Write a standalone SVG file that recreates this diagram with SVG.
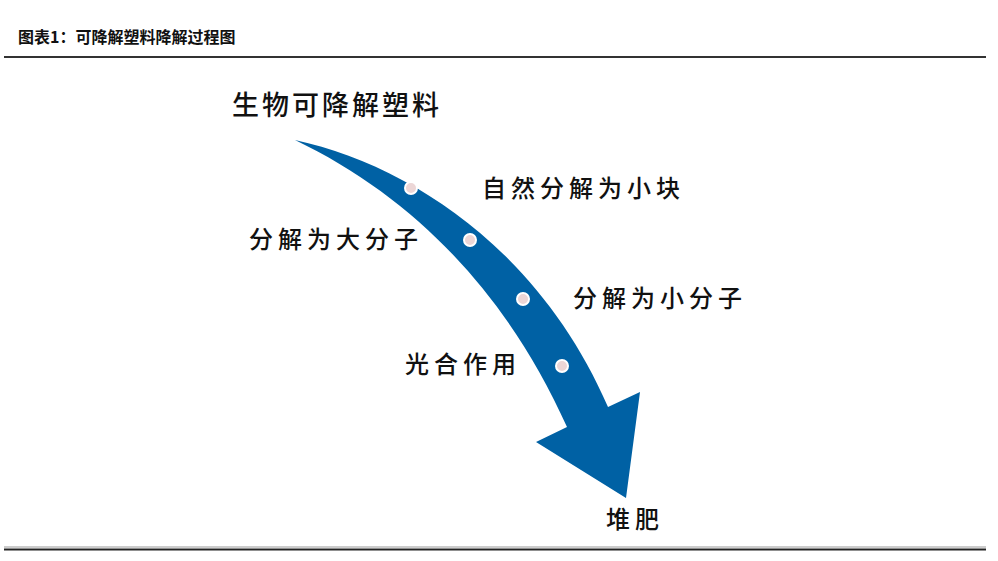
<svg xmlns="http://www.w3.org/2000/svg" width="998" height="561" viewBox="0 0 998 561">
<style>
text{font-family:"Noto Sans CJK SC","Noto Sans",sans-serif;fill:#111}
.l{font-size:24px;letter-spacing:5px;font-weight:500}
.d{fill:#ecd6d6;stroke:#fff;stroke-width:2}
</style>
<rect width="998" height="561" fill="#fff"/>
<text x="18" y="43" font-size="16" font-weight="bold">图表1：可降解塑料降解过程图</text>
<line x1="4" y1="57" x2="986" y2="57" stroke="#333" stroke-width="2"/>
<line x1="4" y1="547" x2="986" y2="547" stroke="#999" stroke-width="1"/>
<line x1="4" y1="549.5" x2="986" y2="549.5" stroke="#222" stroke-width="2"/>
<g id="arrow">
<path d="M295,140 C410,165 540,250 608,407 L640,392 L626,498 L536,442 L567,427 C510,300 420,200 295,140 Z" fill="#0061a4"/>
<circle class="d" cx="411" cy="188" r="6"/>
<circle class="d" cx="470" cy="240" r="6"/>
<circle class="d" cx="523" cy="299" r="6"/>
<circle class="d" cx="562" cy="366" r="6"/>
</g>
<g id="n1"><text class="l" x="232" y="115" style="font-size:27px;letter-spacing:3px">生物可降解塑料</text></g>
<g id="n2"><text class="l" x="482" y="197">自然分解为小块</text></g>
<g id="n3"><text class="l" x="249" y="248">分解为大分子</text></g>
<g id="n4"><text class="l" x="573" y="307">分解为小分子</text></g>
<g id="n5"><text class="l" x="405" y="373">光合作用</text></g>
<g id="n6"><text class="l" x="606" y="528">堆肥</text></g>
</svg>
